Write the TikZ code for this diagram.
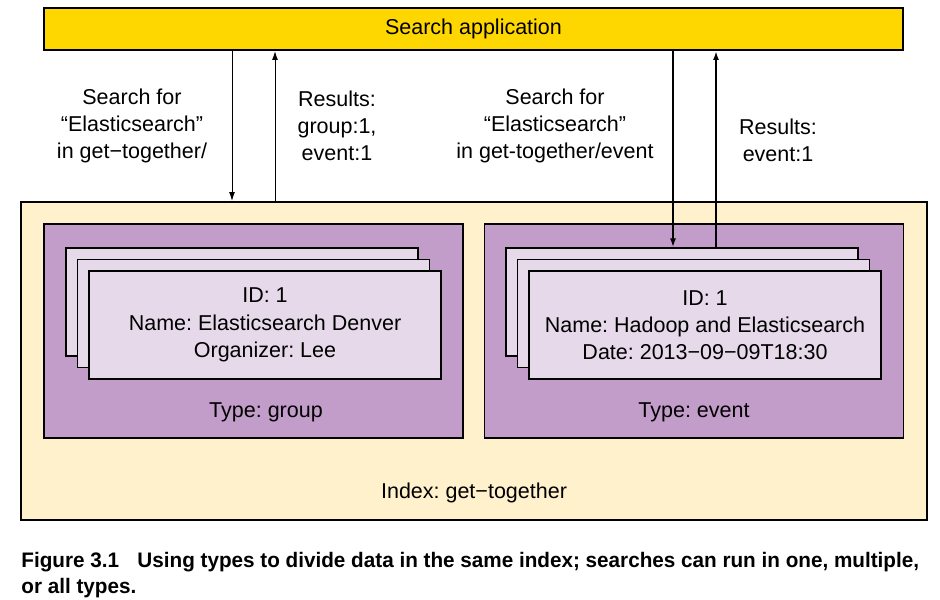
\documentclass[tikz,border=0pt]{standalone}
\usepackage{fontspec}
\setmainfont{Liberation Sans}
\newfontfamily\capfont[FakeStretch=0.985]{Liberation Sans}
\usetikzlibrary{arrows.meta}
\frenchspacing

\definecolor{appyellow}{HTML}{FFD700}
\definecolor{indexcream}{HTML}{FFF1CC}
\definecolor{typepurple}{HTML}{C39DC9}
\definecolor{doclilac}{HTML}{E6D9EA}

\tikzset{
	box/.style={draw=black, line width=1pt, inner sep=0pt},
	appbox/.style={box, fill=appyellow, minimum width=429.5pt, minimum height=21pt},
	indexbox/.style={box, fill=indexcream, minimum width=453pt, minimum height=159pt},
	typebox/.style={box, line width=0.7pt, fill=typepurple, minimum width=209.5pt, minimum height=107pt},
	docbox/.style={box, line width=0.6pt, fill=doclilac, minimum width=176pt, minimum height=54pt, align=center},
	txt/.style={align=center, inner sep=0pt},
	arr/.style={line width=0.5pt, -{Latex[length=4.5pt,width=3pt]}}
}

\begin{document}
\begin{tikzpicture}[x=0.5pt, y=-0.5pt, every node/.style={font=\fontsize{10.75}{13.6}\selectfont}]
	\useasboundingbox (0,0) rectangle (940,599);
	% application and index
	\node[appbox] (app) at (473.5,29) {Search application};
	\node[indexbox] (idx) at (474,361) {};
	\node[txt] (idxT) at (474,493) {Index: get−together};
	% type: group
	\node[typebox] (grp) at (253.5,331) {};
	\node[docbox] (grpC) at (242,302) {};
	\node[docbox, line width=0.9pt] (grpB) at (253.5,313.5) {};
	\node[docbox] (grpA) at (265,325) {ID: 1\\Name: Elasticsearch Denver\\Organizer: Lee};
	\node[txt] (grpT) at (266,412) {Type: group};
	% type: event
	\node[typebox] (evt) at (694,331) {};
	\node[docbox] (evtC) at (682,302) {};
	\node[docbox, line width=0.9pt] (evtB) at (693.5,313.5) {};
	\node[docbox] (evtA) at (705,325) {ID: 1\\Name: Hadoop and Elasticsearch\\Date: 2013−09−09T18:30};
	\node[txt] (evtT) at (694,412) {Type: event};
	% requests and results
	\coordinate (q1) at (232,0);
	\coordinate (r1) at (275,0);
	\coordinate (q2) at (673,0);
	\coordinate (r2) at (716,0);
	\draw[arr] (app.south -| q1) -- (idx.north -| q1);
	\draw[arr] (idx.north -| r1) -- (app.south -| r1);
	\draw[arr, line width=1pt] (app.south -| q2) -- (evtC.north -| q2);
	\draw[arr, line width=1pt] (evtC.north -| r2) -- (app.south -| r2);
	\node[txt] (q1T) at (132,126) {Search for\\“Elasticsearch”\\in get−together/};
	\node[txt] (r1T) at (337,126) {Results:\\group:1,\\event:1};
	\node[txt] (q2T) at (555,126) {Search for\\“Elasticsearch”\\in get-together/event};
	\node[txt] (r2T) at (778,140) {Results:\\event:1};
	% caption
	\node[anchor=base west, inner sep=0pt, align=left, font=\capfont\bfseries\fontsize{10.5}{13}\selectfont] (cap) at (21,593)
		{Figure 3.1\hspace{0.6em} Using types to divide data in the same index; searches can run in one, multiple,\\or all types.};
\end{tikzpicture}
\end{document}
